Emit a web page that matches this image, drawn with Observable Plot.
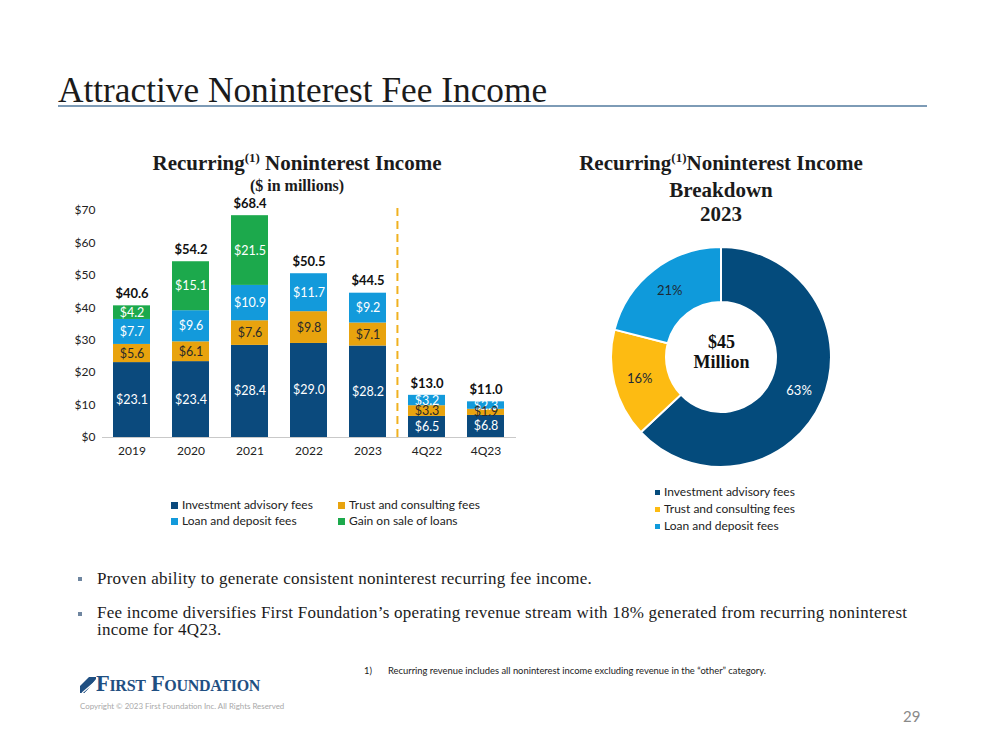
<!DOCTYPE html>
<html>
<head>
<meta charset="utf-8">
<script src="https://cdn.jsdelivr.net/npm/d3@7"></script>
<script src="https://cdn.jsdelivr.net/npm/@observablehq/plot@0.6"></script>
<style>
  html, body { margin: 0; padding: 0; background: #fff; }
  body { width: 999px; height: 750px; position: relative; overflow: hidden; font-family: Lato, "Open Sans", sans-serif; color: #222; }
  .abs { position: absolute; white-space: nowrap; }
  .serif { font-family: "Liberation Serif", "DejaVu Serif", serif; }
  .title { left: 58px; top: 72px; font-size: 35.3px; line-height: 38px; color: #1b1b1b; }
  .rule { left: 58px; top: 105px; width: 869px; height: 2px; background: #7d9bb6; }
  .ctitle { font-weight: bold; font-size: 21px; line-height: 24px; color: #1b1b1b; text-align: center; }
  .ctitle sup { font-size: 13px; vertical-align: 0; position: relative; top: -8px; }
  .leg { font-size: 12px; line-height: 16px; color: #222; display: flex; align-items: center; }
  .sw { display: inline-block; width: 7px; height: 7px; margin-right: 4px; }
  .bullet { font-size: 17px; line-height: 17px; letter-spacing: 0.25px; color: #1b1b1b; }
  .bmark { width: 4px; height: 4px; background: #6f86a0; }
</style>
</head>
<body>
<div class="abs serif title">Attractive Noninterest Fee Income</div>
<div class="abs rule"></div>

<div class="abs serif ctitle" style="left:97px; top:151px; width:400px;">Recurring<sup>(1)</sup> Noninterest Income</div>
<div class="abs serif ctitle" style="left:97px; top:176px; width:400px; font-size:16px; line-height:20px;">($ in millions)</div>

<div class="abs serif ctitle" style="left:521px; top:151px; width:400px;">Recurring<sup>(1)</sup>Noninterest Income<br>Breakdown<br>2023</div>

<div id="bars" class="abs" style="left:0; top:195px;"></div>
<div id="donut" class="abs" style="left:591px; top:227px;"></div>

<div id="barLegend"></div>
<div id="donutLegend"></div>

<div class="abs bmark" style="left:78px; top:577px;"></div>
<div class="abs serif bullet" style="left:97px; top:570px;">Proven ability to generate consistent noninterest recurring fee income.</div>
<div class="abs bmark" style="left:78px; top:612px;"></div>
<div class="abs serif bullet" style="left:97px; top:604px;">Fee income diversifies First Foundation’s operating revenue stream with 18% generated from recurring noninterest<br>income for 4Q23.</div>

<div class="abs" style="left:364px; top:665px; font-size:9.4px; line-height:12px;">1)</div>
<div class="abs" style="left:388px; top:665px; font-size:9.4px; line-height:12px;">Recurring revenue includes all noninterest income excluding revenue in the “other” category.</div>

<div class="abs" style="left:80px; top:677px;">
  <svg width="16" height="16" viewBox="0 0 16 16">
    <path d="M0 16 L0 9 L9 0 L16 0 L16 2 L5 16 Z" fill="#1f4f82"/>
    <path d="M2 16 L16 4 M5 16 L16 7.5 M8.5 16 L16 11" stroke="#fff" stroke-width="1.2"/>
  </svg>
</div>
<div class="abs serif" style="left:96px; top:671px; font-size:22.5px; line-height:25px; font-weight:bold; font-variant:small-caps; color:#1f4f82; letter-spacing:-0.3px;">First Foundation</div>
<div class="abs" style="left:80px; top:701px; font-size:7.9px; line-height:10px; color:#a8a8a8;">Copyright © 2023 First Foundation Inc. All Rights Reserved</div>
<div class="abs" style="left:903px; top:707px; font-size:15px; line-height:18px; color:#8a8a8a;">29</div>

<script>
// ---------- Data ----------
const categories = ["2019", "2020", "2021", "2022", "2023", "4Q22", "4Q23"];
const seriesNames = ["Investment advisory fees", "Trust and consulting fees", "Loan and deposit fees", "Gain on sale of loans"];
const investmentAdvisory = [23.1, 23.4, 28.4, 29.0, 28.2, 6.5, 6.8];
const trustConsulting = [5.6, 6.1, 7.6, 9.8, 7.1, 3.3, 1.9];
const loanDeposit = [7.7, 9.6, 10.9, 11.7, 9.2, 3.2, 2.3];
const gainOnSale = [4.2, 15.1, 21.5, 0, 0, 0, 0];
const totals = [40.6, 54.2, 68.4, 50.5, 44.5, 13.0, 11.0];
const yTicks = [0, 10, 20, 30, 40, 50, 60, 70];
const seriesColors = ["#0b4a7d", "#e8a30e", "#139adb", "#1ca94c"];

const donutLabels = ["Investment advisory fees", "Trust and consulting fees", "Loan and deposit fees"];
const donutShares = [63, 16, 21];
const donutColors = ["#044b7c", "#fdbb12", "#0f9adb"];
const donutCenterText = "$45\nMillion";

// ---------- Bar chart ----------
const seriesValues = [investmentAdvisory, trustConsulting, loanDeposit, gainOnSale];
const rows = [];
seriesNames.forEach((s, si) => {
  categories.forEach((c, ci) => {
    const v = seriesValues[si][ci];
    if (v > 0) rows.push({category: c, series: s, value: v});
  });
});
const fmt = v => "$" + v.toFixed(1);
const W = 560, H = 270, mL = 102, mR = 44;
const step = (W - mL - mR) / categories.length;

const bars = Plot.plot({
  width: W, height: H,
  marginLeft: mL, marginRight: mR, marginTop: 15, marginBottom: 28,
  style: {fontFamily: "Lato, sans-serif", fontSize: "12px", color: "#222", background: "transparent"},
  x: {domain: categories, paddingInner: 0.37, paddingOuter: 0.185, tickSize: 0, tickPadding: 9, label: null},
  y: {domain: [0, 70], ticks: yTicks, tickFormat: d => "$" + d, tickSize: 0, tickPadding: 7, label: null},
  color: {domain: seriesNames, range: seriesColors},
  marks: [
    Plot.barY(rows, {x: "category", y: "value", fill: "series"}),
    Plot.ruleY([0], {stroke: "#c9c9c9", strokeWidth: 1}),
    Plot.text(rows, Plot.stackY({x: "category", y: "value",
      text: d => d.series === seriesNames[1] ? null : fmt(d.value),
      fill: "#ffffff", fontSize: 12.5})),
    Plot.text(rows, Plot.stackY({x: "category", y: "value",
      text: d => d.series === seriesNames[1] ? fmt(d.value) : null,
      fill: "#2a2a2a", fontSize: 12.5})),
    Plot.text(categories, {x: d => d, y: (d, i) => totals[i], text: (d, i) => fmt(totals[i]),
      dy: -12, fontWeight: "bold", fontSize: 13, fill: "#111"}),
    Plot.ruleX(["4Q22"], {y1: 0, y2: 71, dx: -step / 2, stroke: "#f0b120", strokeWidth: 2, strokeDasharray: "8,5"})
  ]
});
document.getElementById("bars").appendChild(bars);

// ---------- Donut ----------
const donutData = donutLabels.map((l, i) => ({label: l, share: donutShares[i]}));
const pieArcs = d3.pie().sort(null).value(d => d.share)(donutData);
const rOuter = 0.846, rInner = 0.423, rLabel = 0.65;
const donutColor = d3.scaleOrdinal(donutLabels, donutColors);
const labelPts = pieArcs.map((a, i) => {
  const m = (a.startAngle + a.endAngle) / 2;
  return {x: rLabel * Math.sin(m), y: rLabel * Math.cos(m), text: donutShares[i] + "%", dark: i !== 0};
});

function arcMark(index, scales) {
  const cx = scales.x(0), cy = scales.y(0);
  const ro = scales.x(rOuter) - cx, ri = scales.x(rInner) - cx;
  const arc = d3.arc().innerRadius(ri).outerRadius(ro);
  const g = d3.create("svg:g").attr("transform", `translate(${cx},${cy})`);
  g.selectAll("path").data(pieArcs).join("path")
    .attr("d", arc)
    .attr("fill", d => donutColor(d.data.label))
    .attr("stroke", "#fff")
    .attr("stroke-width", 2);
  return g.node();
}

const donut = Plot.plot({
  width: 260, height: 260, margin: 0,
  style: {fontFamily: "Lato, sans-serif", background: "transparent"},
  x: {domain: [-1, 1], axis: null},
  y: {domain: [-1, 1], axis: null},
  marks: [
    arcMark,
    Plot.text(labelPts.filter(d => !d.dark), {x: "x", y: "y", text: "text", fill: "#ffffff", fontSize: 13}),
    Plot.text(labelPts.filter(d => d.dark), {x: "x", y: "y", text: "text", fill: "#1e2a36", fontSize: 13}),
    Plot.text([donutCenterText], {x: () => 0, y: () => 0, text: d => d, fontFamily: "Liberation Serif, serif",
      fontWeight: "bold", fontSize: 18, lineHeight: 1.15, dy: -6, fill: "#111"})
  ]
});
document.getElementById("donut").appendChild(donut);

// ---------- Legends ----------
function addLegendItem(parent, label, color, left, top, sw) {
  const el = document.createElement("div");
  el.className = "abs leg";
  el.style.left = left + "px";
  el.style.top = top + "px";
  const s = document.createElement("span");
  s.className = "sw";
  s.style.background = color;
  s.style.width = sw + "px"; s.style.height = sw + "px";
  el.appendChild(s);
  el.appendChild(document.createTextNode(label));
  parent.appendChild(el);
}
const bl = document.getElementById("barLegend");
const barLegendPos = [[171, 497], [338, 497], [171, 513], [338, 513]];
seriesNames.forEach((s, i) => addLegendItem(bl, s, seriesColors[i], barLegendPos[i][0], barLegendPos[i][1], 7));
const dl = document.getElementById("donutLegend");
donutLabels.forEach((s, i) => addLegendItem(dl, s, donutColors[i], 655, 484 + i * 17, 5));
</script>
</body>
</html>
